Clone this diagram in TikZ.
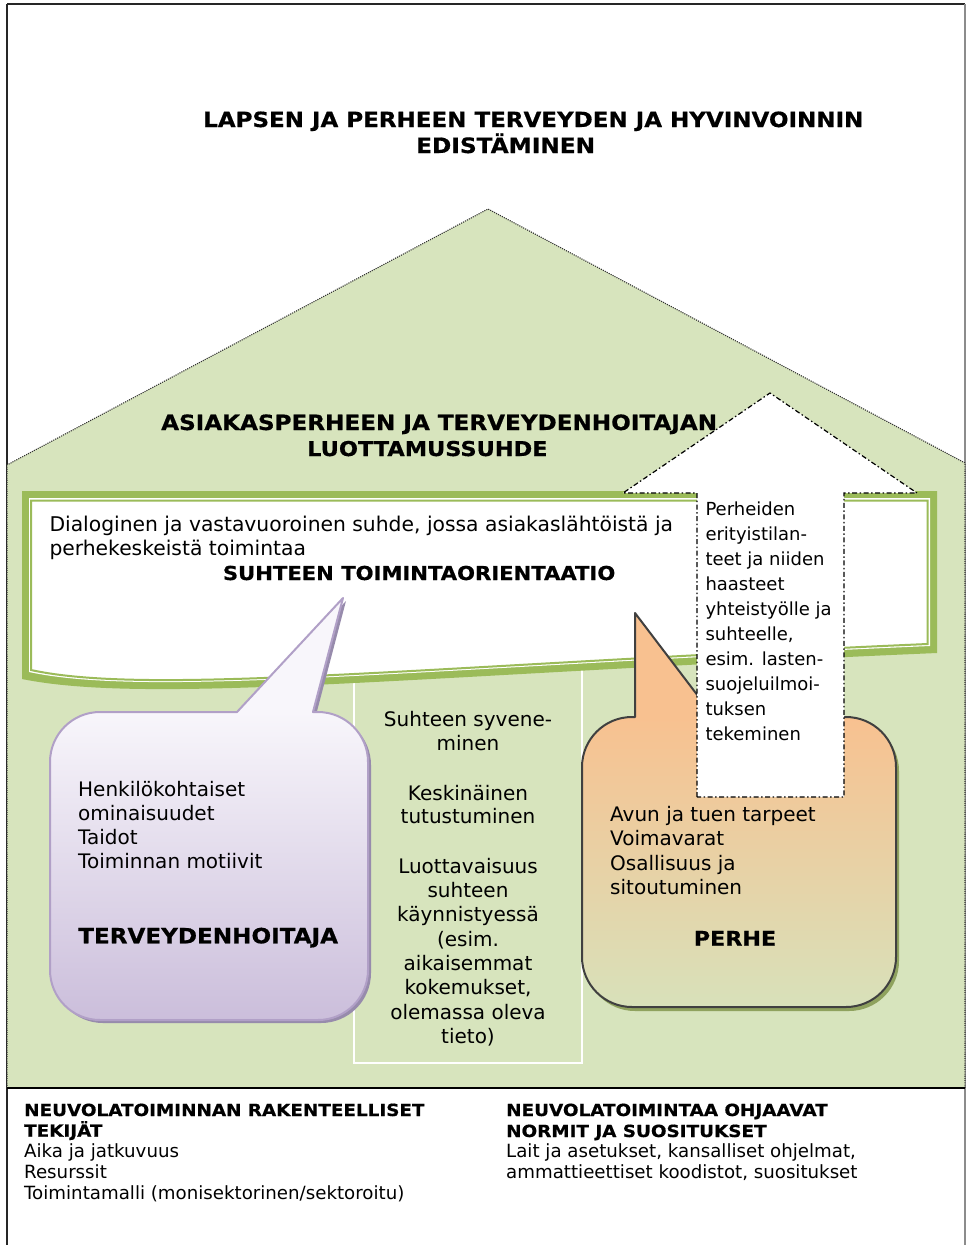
\documentclass[tikz,border=0pt]{standalone}
\usepackage{fontspec}
\setmainfont{DejaVu Sans}
\newfontfamily\hb{DejaVu Sans}[FakeStretch=1.1, FakeBold=0.6]

\definecolor{housegreen}{HTML}{D7E4BD}
\definecolor{bandgreen}{HTML}{9BBB59}
\definecolor{lavtop}{HTML}{F8F6FB}
\definecolor{lavbot}{HTML}{CBBEDB}
\definecolor{lavline}{HTML}{B1A0C7}
\definecolor{lavshadow}{HTML}{978BAC}
\definecolor{peach}{HTML}{F8C190}
\definecolor{peachbot}{HTML}{D8E1BA}
\definecolor{peachshadow}{HTML}{8FA25E}
\definecolor{edge}{HTML}{404040}

\tikzset{
  body/.style={inner sep=0pt, anchor=base west, font=\fontsize{20}{24}\selectfont},
  arrowtext/.style={inner sep=0pt, anchor=base west, font=\fontsize{18}{25}\selectfont},
  small/.style={inner sep=0pt, anchor=base west, font=\fontsize{18.2}{21}\selectfont},
  heading/.style={inner sep=0pt, anchor=base west, font=\hb\bfseries\fontsize{#1}{#1}\selectfont},
  roofline/.style={draw=black!80, line width=1.1pt, dash pattern=on 1.1pt off 1.1pt},
  dashdot/.style={draw=black, line width=1.2pt, dash pattern=on 5pt off 2.5pt on 1.5pt off 2.5pt},
  % speech bubble of the nurse
  nursebubble/.style={insert path={(100,712) -- (237,712) -- (343,598) -- (313,712) -- (318,712)
      arc[start angle=270,end angle=360,radius=50] -- (368,970)
      arc[start angle=0,end angle=90,radius=50] -- (100,1020)
      arc[start angle=90,end angle=180,radius=50] -- (50,762)
      arc[start angle=180,end angle=270,radius=50] -- cycle}},
  nursebody/.style={insert path={(100,712) -- (318,712)
      arc[start angle=270,end angle=360,radius=50] -- (368,970)
      arc[start angle=0,end angle=90,radius=50] -- (100,1020)
      arc[start angle=90,end angle=180,radius=50] -- (50,762)
      arc[start angle=180,end angle=270,radius=50] -- cycle}},
  % speech bubble of the family
  familybubble/.style={insert path={(632,717) -- (635,717) -- (635,613) -- (714,717) -- (846,717)
      arc[start angle=270,end angle=360,radius=50] -- (896,957)
      arc[start angle=0,end angle=90,radius=50] -- (632,1007)
      arc[start angle=90,end angle=180,radius=50] -- (582,767)
      arc[start angle=180,end angle=270,radius=50] -- cycle}},
  familybody/.style={insert path={(632,717) -- (846,717)
      arc[start angle=270,end angle=360,radius=50] -- (896,957)
      arc[start angle=0,end angle=90,radius=50] -- (632,1007)
      arc[start angle=90,end angle=180,radius=50] -- (582,767)
      arc[start angle=180,end angle=270,radius=50] -- cycle}},
}

\begin{document}
\begin{tikzpicture}[x=1pt,y=-1pt]
\useasboundingbox (0,0) rectangle (966,1245);
\fill[white] (0,0) rectangle (966,1245);

% outer frame
\draw[line width=1.3pt, black!85] (7,4) -- (7,1252);
\draw[line width=1.3pt, black!85] (7,4) -- (965,4);
\draw[line width=1.3pt, black!45] (965,4) -- (965,1252);

% house
\fill[housegreen] (7,465) -- (488,209) -- (965,463) -- (965,1088) -- (7,1088) -- cycle;
\draw[roofline] (7,1088) -- (7,465) -- (488,209) -- (965,463) -- (965,1088);
\draw[line width=1.6pt, black] (7,1088) -- (965,1088);

% middle column
\draw[white, line width=1.3pt] (354,650) rectangle (582,1063);

% banner with wavy lower edge
\fill[bandgreen] (22,491) -- (937,491) -- (937,653) .. controls (420,675) and (150,705) .. (22,679) -- cycle;
\fill[white] (29,498) -- (930,498) -- (930,646) .. controls (420,668) and (150,698) .. (29,672) -- cycle;
\draw[bandgreen, line width=2pt] (31,500.5) -- (927.5,500.5) -- (927.5,644) .. controls (420,666) and (150,696) .. (31,670) -- cycle;

% nurse bubble
\fill[lavshadow, shift={(3,3)}, nursebubble];
\fill[lavtop] (233,716) -- (237,712) -- (343,598) -- (313,712) -- (317,716) -- cycle;
\shade[top color=lavtop, bottom color=lavbot, nursebody];
\draw[lavline, line width=2pt, line join=round, nursebubble];

% family bubble
\fill[peachshadow, shift={(3,4)}, familybubble];
\fill[peach] (635,720) -- (635,613) -- (714,717) -- (714,720) -- cycle;
\shade[top color=peach, bottom color=peachbot, familybody];
\draw[edge, line width=2pt, line join=round, familybubble];

% upward arrow
\path[fill=white, dashdot] (697,797) -- (697,493) -- (623,493) -- (770,393) -- (917,493) -- (844,493) -- (844,797) -- cycle;

% headings
\node[heading=20.9] (title1) at (203,127) {LAPSEN JA PERHEEN TERVEYDEN JA HYVINVOINNIN};
\node[heading=21.1] (title2) at (416,153) {EDISTÄMINEN};
\node[heading=21.0] (sub1) at (161,430) {ASIAKASPERHEEN JA TERVEYDENHOITAJAN};
\node[heading=20.4] (sub2) at (307,456) {LUOTTAMUSSUHDE};

% banner text
\node[body, font=\fontsize{20.3}{24}\selectfont] (ban1) at (49.3,531.7) {Dialoginen ja vastavuoroinen suhde, jossa asiakaslähtöistä ja};
\node[body, font=\fontsize{20.3}{24}\selectfont] (ban2) at (49.3,555) {perhekeskeistä toimintaa};
\node[heading=19.2] (ban3) at (222.7,580) {SUHTEEN TOIMINTAORIENTAATIO};

% nurse text
\foreach \t [count=\i from 0] in {Henkilökohtaiset,ominaisuudet,Taidot,Toiminnan motiivit}
  \node[body] (nurse\i) at (78,796+24.1*\i) {\t};
\node[heading=21.0] (nurse) at (78,943.3) {TERVEYDENHOITAJA};

% middle column text
\foreach \t/\yy [count=\i] in {Suhteen syvene-/726.7, minen/750.7, Keskinäinen/800, tutustuminen/823.6,
    Luottavaisuus/873.3, suhteen/897.5, käynnistyessä/921.8, {(esim.}/946, aikaisemmat/970.4,
    {kokemukset,}/994.8, olemassa oleva/1019.2, {tieto)}/1043.5}
  \node[body, anchor=base] (mid\i) at (468,\yy) {\t};

% family text
\foreach \t [count=\i from 0] in {Avun ja tuen tarpeet,Voimavarat,Osallisuus ja,sitoutuminen}
  \node[body] (fam\i) at (610,821.7+24.2*\i) {\t};
\node[heading=20.2, anchor=base] (family) at (735,945.7) {PERHE};

% arrow text
\foreach \t [count=\i from 0] in {Perheiden,erityistilan-,teet ja niiden,haasteet,yhteistyölle ja,
    {suhteelle,},esim. lasten-,suojeluilmoi-,tuksen,tekeminen}
  \node[arrowtext] (arr\i) at (705.3,515+25*\i) {\t};

% lower section
\node[heading=16.7] (struct1) at (24,1116) {NEUVOLATOIMINNAN RAKENTEELLISET};
\node[heading=16.7] (struct2) at (24,1136.7) {TEKIJÄT};
\node[small] (struct3) at (24,1157.3) {Aika ja jatkuvuus};
\node[small] (struct4) at (24,1178.3) {Resurssit};
\node[small] (struct5) at (24,1199) {Toimintamalli (monisektorinen/sektoroitu)};

\node[heading=16.7] (norm1) at (506,1116) {NEUVOLATOIMINTAA OHJAAVAT};
\node[heading=16.7] (norm2) at (506,1137) {NORMIT JA SUOSITUKSET};
\node[small] (norm3) at (506,1157.5) {Lait ja asetukset, kansalliset ohjelmat,};
\node[small] (norm4) at (506,1178.5) {ammattieettiset koodistot, suositukset};
\end{tikzpicture}
\end{document}
